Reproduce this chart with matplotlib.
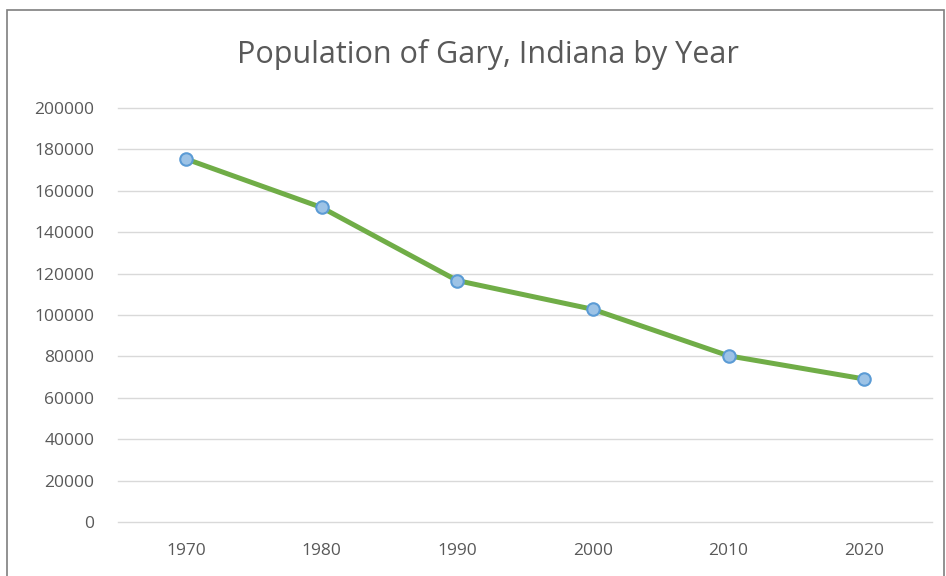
import matplotlib.pyplot as plt
from matplotlib.patches import Rectangle

years = ['1970', '1980', '1990', '2000', '2010', '2020']
population = [175415, 151953, 116646, 102746, 80294, 69093]
y_ticks = [0, 20000, 40000, 60000, 80000, 100000, 120000, 140000, 160000, 180000, 200000]

plt.rcParams['font.family'] = ['Open Sans', 'DejaVu Sans']

fig = plt.figure(figsize=(9.46, 5.76), dpi=100)
ax = fig.add_axes([118 / 946, 54 / 576, 814 / 946, 414 / 576])

x = range(len(years))
ax.plot(x, population, color='#70AD47', linewidth=3.6, marker='o',
        markersize=9, markerfacecolor='#9DC3E6', markeredgecolor='#5B9BD5',
        markeredgewidth=1.5, zorder=3)

ax.set_xlim(-0.5, len(years) - 0.5)
ax.set_ylim(0, 200000)
ax.set_xticks(list(x))
ax.set_xticklabels(years)
ax.set_yticks(y_ticks)
ax.set_yticklabels([str(v) for v in y_ticks])
ax.tick_params(axis='both', length=0, labelsize=12.5, labelcolor='#595959')
ax.tick_params(axis='y', pad=17)
ax.tick_params(axis='x', pad=15)
ax.grid(axis='y', color='#D9D9D9', linewidth=1)
for gl in ax.get_ygridlines():
    gl.set_clip_on(False)
ax.set_axisbelow(True)
for s in ax.spines.values():
    s.set_visible(False)

fig.text(488 / 946, 1 - 55 / 576, 'Population of Gary, Indiana by Year',
         ha='center', va='center', fontsize=22, color='#595959')

fig.patches.append(Rectangle((7 / 946, -0.05), 937 / 946, 1.05 - 10 / 576,
                             transform=fig.transFigure, fill=False,
                             edgecolor='#7F7F7F', linewidth=1.2))

fig.savefig('out.png', dpi=100)
